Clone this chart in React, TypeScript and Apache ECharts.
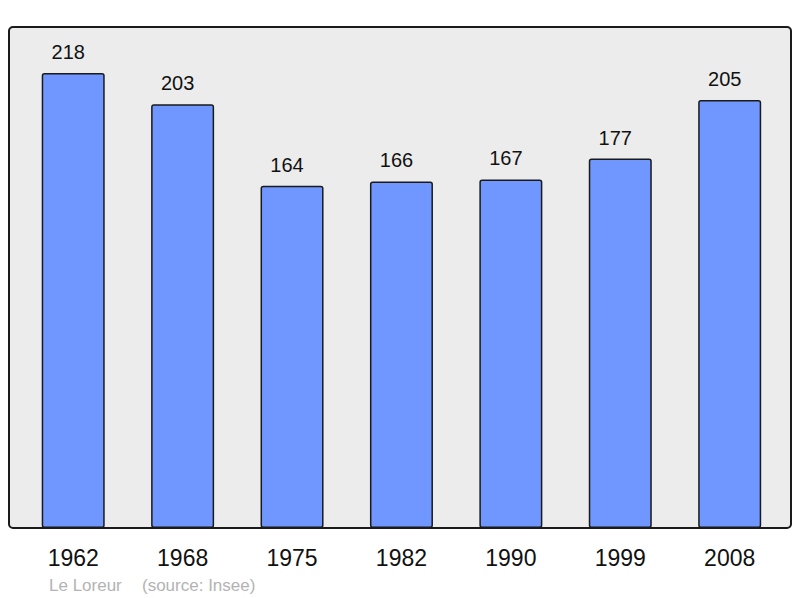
import React, { useEffect, useRef } from "react";
import * as echarts from "echarts";

const years = ["1962", "1968", "1975", "1982", "1990", "1999", "2008"];
const population = [218, 203, 164, 166, 167, 177, 205];
const placeName = "Le Loreur";
const sourceText = "(source: Insee)";

export default function App() {
  const ref = useRef<HTMLDivElement>(null);
  useEffect(() => {
    if (!ref.current) return;
    const chart = echarts.init(ref.current, null, { renderer: "svg" });
    chart.setOption({
      animation: false,
      backgroundColor: "#ffffff",
      textStyle: { fontFamily: "Liberation Sans, Arial, sans-serif" },
      graphic: [
        {
          type: "rect",
          z: -10,
          shape: { x: 9, y: 27, width: 782, height: 501, r: 4 },
          style: { fill: "#ececec", stroke: "#1a1a1a", lineWidth: 2 },
        },
        {
          type: "text",
          x: 49,
          y: 585,
          style: {
            text: placeName,
            fill: "#b3b3b3",
            fontSize: 17,
            fontFamily: "Liberation Sans, Arial, sans-serif",
            verticalAlign: "middle",
          },
        },
        {
          type: "text",
          x: 142,
          y: 585,
          style: {
            text: sourceText,
            fill: "#b3b3b3",
            fontSize: 17,
            fontFamily: "Liberation Sans, Arial, sans-serif",
            verticalAlign: "middle",
          },
        },
      ],
      grid: { left: 18.5, right: 15.6, top: 27, bottom: 70, containLabel: false },
      xAxis: {
        type: "category",
        data: years,
        axisLine: { show: false },
        axisTick: { show: false },
        axisLabel: {
          color: "#111111",
          fontSize: 23,
          margin: 18,
          fontFamily: "Liberation Sans, Arial, sans-serif",
        },
      },
      yAxis: {
        type: "value",
        min: 0,
        max: 240,
        show: false,
        splitLine: { show: false },
      },
      series: [
        {
          type: "bar",
          data: population,
          barWidth: 63,
          itemStyle: {
            color: "#7097ff",
            borderColor: "#1a1a1a",
            borderWidth: 1.5,
            borderRadius: 2,
          },
          label: {
            show: true,
            position: "top",
            distance: 11,
            offset: [-5, 0],
            color: "#111111",
            fontSize: 20,
            fontFamily: "Liberation Sans, Arial, sans-serif",
          },
        },
      ],
    });
    return () => chart.dispose();
  }, []);
  return (
    <div
      ref={ref}
      style={{ position: "fixed", left: 0, top: 0, width: 800, height: 598 }}
    />
  );
}
